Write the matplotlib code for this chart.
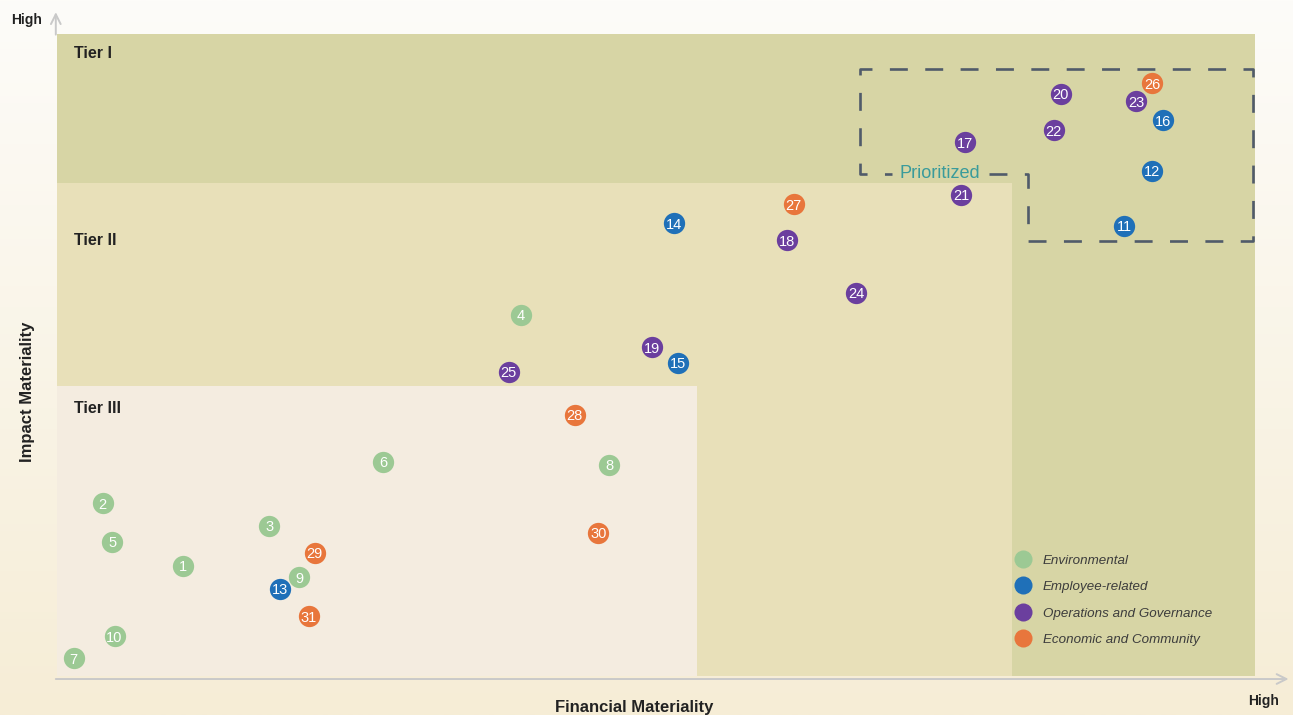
import numpy as np
import matplotlib
matplotlib.use("Agg")
import matplotlib.pyplot as plt
from matplotlib.patches import Rectangle
from matplotlib.lines import Line2D

plt.rcParams['font.family'] = ['Liberation Sans', 'DejaVu Sans']

# ---------------- data ----------------
ids = list(range(1, 32))
financial = [10.5, 3.8, 17.7, 38.7, 4.6, 27.2, 1.4, 46.1, 20.2, 4.8,
             89.1, 91.4, 18.6, 51.5, 51.8, 92.3, 75.8, 60.9, 49.7, 83.8,
             75.5, 83.2, 90.1, 66.7, 37.7, 91.4, 61.5, 43.2, 21.5, 45.2, 21.0]
impact = [17.2, 26.9, 23.4, 56.3, 20.9, 33.4, 2.8, 32.9, 15.4, 6.2,
          70.1, 78.7, 13.6, 70.5, 48.8, 86.6, 83.1, 67.9, 51.2, 90.7,
          75.0, 85.0, 89.5, 59.7, 47.4, 92.3, 73.5, 40.7, 19.2, 22.3, 9.3]
item_category = (['Environmental'] * 10 +
                 ['Employee-related'] * 6 +
                 ['Operations and Governance'] * 9 +
                 ['Economic and Community'] * 6)
categories = ['Environmental', 'Employee-related',
              'Operations and Governance', 'Economic and Community']
cat_colors = ['#9cc994', '#1f70b8', '#6b3f9e', '#e8763c']

# tier regions (financial max, impact max) on 0-100 scale
tier_names = ['Tier I', 'Tier II', 'Tier III']
tier_fin_max = [100, 79.7, 53.4]
tier_imp_max = [100, 76.8, 45.2]
tier_label_y = [96.9, 67.8, 41.6]
tier_colors = ['#d7d5a5', '#e8e0b9', '#f4ece0']

# prioritized outline
prio_x = [77.8, 81.05, 81.05, 99.8, 99.8, 67.0, 67.0, 69.7]
prio_y = [78.2, 78.2, 67.8, 67.8, 94.5, 94.5, 78.2, 78.2]

# ---------------- figure ----------------
W, H = 1293, 715
fig = plt.figure(figsize=(W / 100, H / 100), dpi=100)

# background gradient
bg = fig.add_axes([0, 0, 1, 1], zorder=-5)
top = np.array([253, 252, 249]) / 255
bot = np.array([246, 237, 214]) / 255
t = np.linspace(0, 1, 256)[:, None]
grad = top[None, :] * (1 - t) + bot[None, :] * t
bg.imshow(grad[:, None, :], aspect='auto', extent=[0, 1, 0, 1])
bg.axis('off')

x0, x1 = 57, 1255
y0, y1 = 34, 676
ax = fig.add_axes([x0 / W, 1 - y1 / H, (x1 - x0) / W, (y1 - y0) / H])
ax.set_xlim(0, 100)
ax.set_ylim(0, 100)
ax.axis('off')
ax.patch.set_alpha(0)

for name, fx, iy, ly, c in zip(tier_names, tier_fin_max, tier_imp_max,
                               tier_label_y, tier_colors):
    ax.add_patch(Rectangle((0, 0), fx, iy, facecolor=c, edgecolor='none', zorder=1))
    ax.text(1.42, ly, name, fontsize=11.5, fontweight='bold',
            color='#222222', ha='left', va='center', zorder=3)

ax.plot(prio_x, prio_y, color='#505b6a', lw=1.9,
        linestyle=(0, (6.8, 6.6)), zorder=2, clip_on=False)
ax.text(73.7, 77.5, 'Prioritized', fontsize=13.1, color='#3a9b9b',
        ha='center', va='baseline', zorder=3)

# points
for i, fx, iy, cat in zip(ids, financial, impact, item_category):
    c = cat_colors[categories.index(cat)]
    ax.scatter([fx], [iy], s=235, color=c, linewidths=0, zorder=4, clip_on=False)
    ax.text(fx, iy, str(i), fontsize=10.5, color='white', ha='center',
            va='center_baseline', zorder=5)

# legend
handles = [Line2D([], [], marker='o', linestyle='none', markersize=13,
                  markerfacecolor=c, markeredgewidth=0, color=c)
           for c in cat_colors]
leg = ax.legend(handles, categories, loc='upper left',
                bbox_to_anchor=(0.795, 0.200), frameon=False, borderpad=0,
                handlelength=1.0, handletextpad=1.02, labelspacing=1.06,
                prop={'size': 9.6, 'style': 'italic'})
for txt in leg.get_texts():
    txt.set_color('#3c3c3c')

# axis arrows
ax.annotate('', xy=(102.8, -0.47), xytext=(-0.1, -0.47),
            xycoords='data', annotation_clip=False,
            arrowprops=dict(arrowstyle='->,head_length=0.7,head_width=0.35',
                            color='#c9c9c9', lw=1.4, shrinkA=0, shrinkB=0))
ax.annotate('', xy=(-0.1, 103.4), xytext=(-0.1, 99.9),
            xycoords='data', annotation_clip=False,
            arrowprops=dict(arrowstyle='->,head_length=0.7,head_width=0.35',
                            color='#c9c9c9', lw=1.4, shrinkA=0, shrinkB=0))

# axis texts
fig.text(11 / W, 1 - 24 / H, 'High', fontsize=10, fontweight='bold',
         color='#222222', ha='left', va='baseline')
fig.text(1248 / W, 1 - 705 / H, 'High', fontsize=10, fontweight='bold',
         color='#222222', ha='left', va='baseline')
fig.text(634 / W, 1 - 712 / H, 'Financial Materiality', fontsize=12,
         fontweight='bold', color='#222222', ha='center', va='baseline')
fig.text(27.5 / W, 1 - 391.5 / H, 'Impact Materiality', fontsize=12,
         fontweight='bold', color='#222222', ha='center', va='center',
         rotation=90)

fig.savefig('out.png', dpi=100)
